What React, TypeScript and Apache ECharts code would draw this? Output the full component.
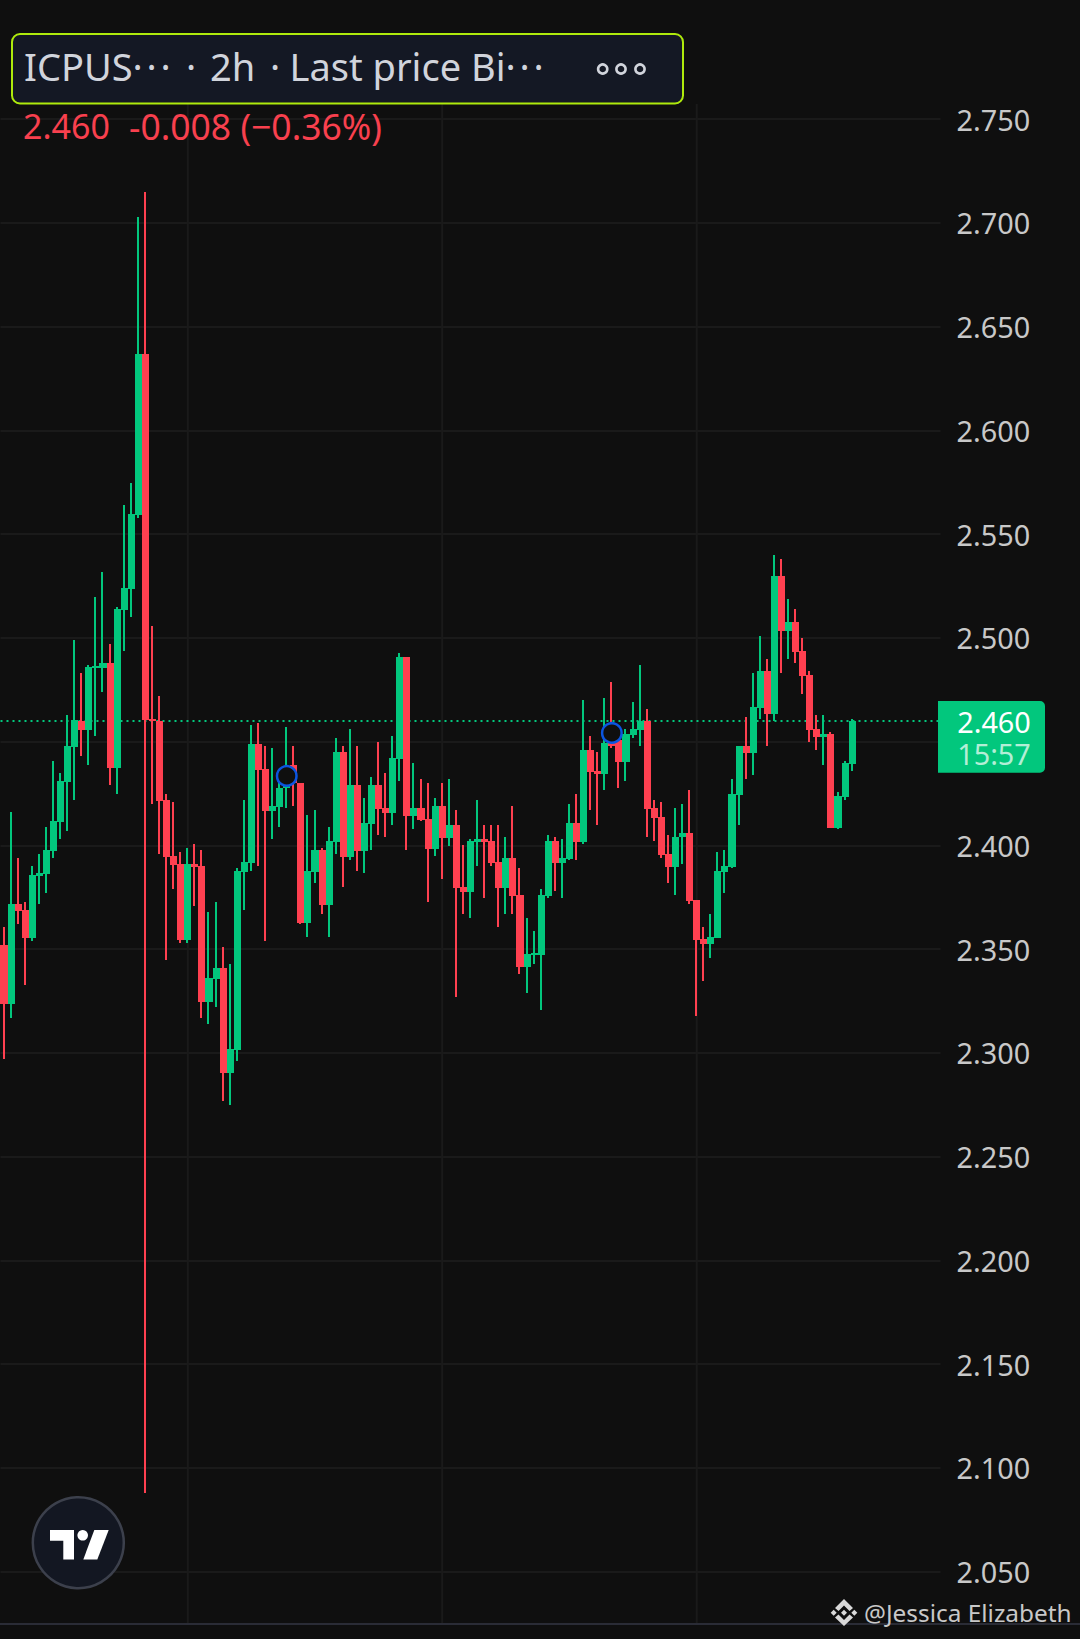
import React, { useEffect, useRef } from "react";
import * as echarts from "echarts";

const BG = "#0F0F0F";
const UP = "#02C77D";
const DOWN = "#FF4050";
const GRID = "#1A1A1A";

const opens = [
  2.352, 2.3236, 2.3718, 2.3689, 2.3554, 2.3853, 2.3862, 2.3973, 2.4113, 2.4306,
  2.4475, 2.46, 2.4557, 2.4857, 2.4855, 2.488, 2.4373, 2.5135, 2.5236, 2.5593,
  2.6368, 2.4609, 2.46, 2.4219, 2.3949, 2.3911, 2.3544, 2.3911, 2.3901, 2.3245,
  2.3356, 2.3409, 2.2903, 2.3014, 2.3872, 2.3915, 2.4489, 2.4368, 2.4166, 2.4185,
  2.4277, 2.4386, 2.4301, 2.3626, 2.3872, 2.3978, 2.3713, 2.4017, 2.445, 2.3944,
  2.4291, 2.3973, 2.4103, 2.4291, 2.418, 2.4156, 2.4417, 2.4908, 2.4142, 2.418,
  2.4127, 2.3983, 2.419, 2.4036, 2.4098, 2.38, 2.3776, 2.4016, 2.4031, 2.4021,
  2.392, 2.3795, 2.394, 2.3761, 2.3414, 2.3472, 2.3472, 2.3756, 2.4021, 2.3916,
  2.3935, 2.4108, 2.4017, 2.446, 2.4359, 2.4344, 2.454, 2.4508, 2.4402, 2.4532,
  2.4556, 2.46, 2.4181, 2.4137, 2.3959, 2.3896, 2.4041, 2.406, 2.3737, 2.355,
  2.3525, 2.3554, 2.3872, 2.3897, 2.4243, 2.4479, 2.4445, 2.4662, 2.4841, 2.4633,
  2.5299, 2.5033, 2.5077, 2.4937, 2.4821, 2.4561, 2.4523, 2.4537, 2.4084, 2.4233,
  2.4392,
];
const closes = [
  2.3236, 2.3718, 2.3684, 2.3554, 2.3858, 2.3867, 2.3978, 2.4118, 2.4311, 2.4479,
  2.4605, 2.4557, 2.486, 2.4865, 2.488, 2.4373, 2.514, 2.5241, 2.5598, 2.6368,
  2.4605, 2.46, 2.4214, 2.3944, 2.3906, 2.3544, 2.3911, 2.3896, 2.3245, 2.3361,
  2.3409, 2.2903, 2.3019, 2.3877, 2.392, 2.4489, 2.4363, 2.4166, 2.419, 2.4277,
  2.4383, 2.43, 2.3626, 2.3877, 2.3978, 2.3713, 2.4021, 2.445, 2.3944, 2.4291,
  2.3973, 2.4108, 2.4291, 2.4176, 2.4156, 2.4421, 2.4908, 2.4142, 2.418, 2.4123,
  2.3983, 2.419, 2.4036, 2.4098, 2.3795, 2.3776, 2.4021, 2.4031, 2.4016, 2.3916,
  2.3795, 2.394, 2.3756, 2.3414, 2.3477, 2.3482, 2.3761, 2.4021, 2.3916, 2.394,
  2.4108, 2.4017, 2.446, 2.4354, 2.4344, 2.4494, 2.448, 2.4402, 2.4537, 2.4561,
  2.46, 2.4176, 2.4132, 2.3954, 2.3896, 2.4041, 2.406, 2.3732, 2.3545, 2.3525,
  2.3559, 2.3877, 2.3901, 2.4248, 2.4479, 2.4445, 2.4667, 2.4841, 2.4633, 2.5299,
  2.5033, 2.5077, 2.4932, 2.4817, 2.4556, 2.4523, 2.4537, 2.4084, 2.4238, 2.4397,
  2.46,
];
const lows = [
  2.2971, 2.3168, 2.3621, 2.3327, 2.3539, 2.3718, 2.3771, 2.3939, 2.4031, 2.407,
  2.4219, 2.4431, 2.4388, 2.4528, 2.474, 2.4292, 2.4248, 2.4937, 2.5101, 2.5578,
  2.088, 2.42, 2.3959, 2.3448, 2.379, 2.353, 2.353, 2.3708, 2.3168, 2.3139,
  2.3221, 2.2768, 2.2749, 2.2961, 2.3689, 2.3877, 2.3901, 2.3539, 2.4031, 2.4089,
  2.418, 2.419, 2.3621, 2.3559, 2.3819, 2.367, 2.3559, 2.3959, 2.38, 2.393,
  2.3877, 2.3867, 2.3978, 2.405, 2.4041, 2.4098, 2.431, 2.3978, 2.4079, 2.4118,
  2.3727, 2.3949, 2.3838, 2.3997, 2.327, 2.367, 2.365, 2.3901, 2.3747, 2.3901,
  2.3607, 2.367, 2.367, 2.3381, 2.3289, 2.3429, 2.3207, 2.3747, 2.3781, 2.3747,
  2.393, 2.393, 2.4007, 2.4171, 2.4099, 2.4267, 2.447, 2.4277, 2.4311, 2.4518,
  2.4479, 2.4041, 2.4021, 2.394, 2.3819, 2.3761, 2.3911, 2.3718, 2.3178, 2.3347,
  2.3458, 2.3554, 2.3771, 2.3892, 2.4099, 2.432, 2.4339, 2.4609, 2.4479, 2.46,
  2.4831, 2.4899, 2.4879, 2.473, 2.4499, 2.446, 2.4388, 2.4084, 2.4079, 2.4219,
  2.4359,
];
const highs = [
  2.3607, 2.4161, 2.3939, 2.3727, 2.3901, 2.3959, 2.4089, 2.4407, 2.4349, 2.4629,
  2.499, 2.4831, 2.487, 2.5198, 2.5318, 2.4971, 2.5149, 2.5641, 2.5747, 2.7029,
  2.7149, 2.5058, 2.472, 2.4248, 2.421, 2.3968, 2.3988, 2.4007, 2.3978, 2.3679,
  2.3727, 2.3511, 2.3429, 2.3891, 2.4219, 2.458, 2.459, 2.4479, 2.447, 2.43,
  2.4571, 2.4479, 2.4301, 2.4147, 2.4171, 2.3988, 2.4089, 2.4518, 2.4479, 2.4561,
  2.4479, 2.4229, 2.433, 2.4498, 2.4349, 2.4527, 2.4927, 2.4908, 2.4397, 2.432,
  2.4301, 2.4229, 2.4301, 2.432, 2.4171, 2.4, 2.4031, 2.4219, 2.4099, 2.4099,
  2.4099, 2.4041, 2.419, 2.3891, 2.365, 2.3588, 2.379, 2.405, 2.4041, 2.4031,
  2.42, 2.4248, 2.4701, 2.4528, 2.445, 2.4711, 2.4788, 2.452, 2.4561, 2.4691,
  2.487, 2.4658, 2.4219, 2.4209, 2.405, 2.4181, 2.42, 2.4267, 2.3737, 2.3607,
  2.367, 2.3969, 2.3978, 2.4321, 2.4479, 2.4619, 2.4831, 2.5009, 2.4899, 2.54,
  2.538, 2.5188, 2.5139, 2.4999, 2.4841, 2.4629, 2.4629, 2.4547, 2.4258, 2.4407,
  2.4609,
];

const SLOT_COUNT = 133;
const categories = Array.from({ length: SLOT_COUNT }, (_, i) => String(i));
const verticalGridSlots = [26, 62, 98];
const markerPoints = [
  [40, 2.4335],
  [86, 2.4542],
];
const lastPrice = 2.46;
const lastPriceLabel = "2.460";
const countdownLabel = "15:57";
const hiddenTick = 2.45;
const changeLabel = "-0.008 (\u22120.36%)";
const ELLIPSIS = "\u00B7\u200A\u00B7\u200A\u00B7";

const txt = (text: string, x: number, y: number, fontSize: number, fill: string, textAlign = "left") => ({
  type: "text",
  silent: true,
  style: { text, x, y, fontSize, fontFamily: "Noto Sans", fill, textAlign, textVerticalAlign: "middle" },
});

const poly = (points: number[][], fill: string) => ({
  type: "polygon",
  silent: true,
  shape: { points },
  style: { fill },
});

export default function App() {
  const ref = useRef<HTMLDivElement>(null);

  useEffect(() => {
    document.body.style.margin = "0";
    document.body.style.background = BG;
    document.body.style.overflow = "hidden";
    const chart = echarts.init(ref.current!, null, { renderer: "svg" });

    const candles = opens.map((o, i) => [i, o, closes[i], lows[i], highs[i]]);
    const TEXT = "#D1D4DC";
    const OY = 1470;

    const overlay: any[] = [
      // bottom rule
      { type: "rect", silent: true, shape: { x: 0, y: 1623, width: 1080, height: 2 }, style: { fill: "#2A2C36" } },
      // header pill
      {
        type: "rect",
        silent: true,
        shape: { x: 12, y: 34, width: 671, height: 69.5, r: 8 },
        style: { fill: "#141824", stroke: "#AEEA0C", lineWidth: 2 },
      },
      txt("ICPUS" + ELLIPSIS, 24, 66, 38, TEXT),
      txt("\u00B7", 186, 66, 38, TEXT),
      txt("2h", 210, 66, 38, TEXT),
      txt("\u00B7", 270, 66, 38, TEXT),
      txt("Last price Bi" + ELLIPSIS, 289.5, 66, 38, TEXT),
      ...[602.7, 621, 640].map((cx) => ({
        type: "circle",
        silent: true,
        shape: { cx, cy: 69, r: 4.6 },
        style: { fill: "transparent", stroke: TEXT, lineWidth: 2.6 },
      })),
      // price and change line
      txt(lastPriceLabel, 23, 125.5, 34, "#F8404E"),
      txt(changeLabel, 129, 125.5, 35.5, "#F8404E"),
      // last price tag
      {
        type: "rect",
        silent: true,
        shape: { x: 938, y: 701, width: 107, height: 71.7, r: [0, 5, 5, 0] },
        style: { fill: UP },
      },
      txt(lastPriceLabel, 994, 721, 28.8, "#FFFFFF", "center"),
      txt(countdownLabel, 994, 753, 28.8, "#B3EED6", "center"),
      // TradingView badge
      {
        type: "circle",
        silent: true,
        shape: { cx: 78.3, cy: 1542.7, r: 45.5 },
        style: { fill: "#131722", stroke: "#3C404C", lineWidth: 2.5 },
      },
      poly(
        [
          [50, OY + 60],
          [74, OY + 60],
          [74, OY + 89.5],
          [63.3, OY + 89.5],
          [63.3, OY + 70.7],
          [50, OY + 70.7],
        ],
        "#FFFFFF"
      ),
      { type: "circle", silent: true, shape: { cx: 82.7, cy: OY + 65.3, r: 5.3 }, style: { fill: "#FFFFFF" } },
      poly(
        [
          [94.3, OY + 60],
          [108.7, OY + 60],
          [97.3, OY + 89.5],
          [83.3, OY + 89.5],
        ],
        "#FFFFFF"
      ),
      // watermark
      poly([[844, 1599], [853, 1608], [849.5, 1611], [844, 1605.5], [838.5, 1611], [835, 1608]], "#D9D9D9"),
      poly([[844, 1626], [853, 1617.5], [849.5, 1614.5], [844, 1620], [838.5, 1614.5], [835, 1617.5]], "#D9D9D9"),
      poly([[844, 1609.7], [847, 1612.7], [844, 1615.7], [841, 1612.7]], "#D9D9D9"),
      poly([[833.7, 1609.7], [836.7, 1612.7], [833.7, 1615.7], [830.7, 1612.7]], "#D9D9D9"),
      poly([[854.3, 1609.7], [857.3, 1612.7], [854.3, 1615.7], [851.3, 1612.7]], "#D9D9D9"),
      txt("@Jessica Elizabeth", 864, 1612, 24.4, "#C8C8C8"),
    ];

    chart.setOption({
      animation: false,
      backgroundColor: BG,
      grid: { left: 0.5, top: 119.2, width: 940, height: 1452.5, containLabel: false },
      xAxis: {
        type: "category",
        data: categories,
        boundaryGap: true,
        axisLine: { show: false },
        axisTick: { show: false },
        axisLabel: { show: false },
        splitLine: { show: false },
      },
      yAxis: {
        type: "value",
        position: "right",
        min: 2.05,
        max: 2.75,
        interval: 0.05,
        axisLine: { show: false },
        axisTick: { show: false },
        splitLine: { show: true, lineStyle: { color: GRID, width: 2 } },
        axisLabel: {
          color: "#C8C8C8",
          fontFamily: "Noto Sans",
          fontSize: 28.8,
          margin: 16,
          formatter: (v: number) => (Math.abs(v - hiddenTick) < 1e-6 ? "" : v.toFixed(3)),
        },
      },
      series: [
        {
          type: "custom",
          z: 0,
          silent: true,
          clip: false,
          data: verticalGridSlots.map((s) => [s, 2.5]),
          encode: { x: 0, y: 1 },
          renderItem: (_p: any, api: any) => {
            const x = api.coord([api.value(0), 2.5])[0];
            return {
              type: "line",
              shape: { x1: x, y1: 104, x2: x, y2: 1624 },
              style: { stroke: GRID, lineWidth: 2 },
            };
          },
          markLine: {
            silent: true,
            z: 1,
            symbol: "none",
            label: { show: false },
            lineStyle: { color: UP, type: [2, 4], width: 2, opacity: 1 },
            data: [{ yAxis: lastPrice }],
          },
        },
        {
          type: "custom",
          name: "ICPUSDT candles",
          z: 2,
          silent: true,
          clip: false,
          data: candles,
          encode: { x: 0, y: [1, 2, 3, 4] },
          renderItem: (_p: any, api: any) => {
            const i = api.value(0);
            const o = api.value(1);
            const c = api.value(2);
            const xc = api.coord([i, o])[0];
            const half = api.size([1, 0])[0] / 2;
            const yO = api.coord([i, o])[1];
            const yC = api.coord([i, c])[1];
            const yL = api.coord([i, api.value(3)])[1];
            const yH = api.coord([i, api.value(4)])[1];
            const fill = c >= o ? UP : DOWN;
            const left = Math.round(xc - half);
            const right = Math.round(xc + half);
            const top = Math.round(Math.min(yO, yC));
            const bottom = Math.max(Math.round(Math.max(yO, yC)), top + 2);
            const wickTop = Math.round(yH);
            const wickBottom = Math.round(yL);
            return {
              type: "group",
              children: [
                {
                  type: "rect",
                  shape: { x: Math.floor(xc) - 1, y: wickTop, width: 2, height: wickBottom - wickTop },
                  style: { fill },
                },
                {
                  type: "rect",
                  shape: { x: left, y: top, width: right - left, height: bottom - top },
                  style: { fill },
                },
              ],
            };
          },
        },
        {
          type: "scatter",
          z: 3,
          silent: true,
          symbol: "circle",
          symbolSize: 19.5,
          data: markerPoints,
          itemStyle: { color: BG, borderColor: "#0B55E0", borderWidth: 2.5, opacity: 1 },
        },
      ],
      graphic: { elements: overlay.map((el) => ({ ...el, z: 20 })) },
    });

    return () => chart.dispose();
  }, []);

  return <div ref={ref} style={{ width: 1080, height: 1639, background: BG }} />;
}
